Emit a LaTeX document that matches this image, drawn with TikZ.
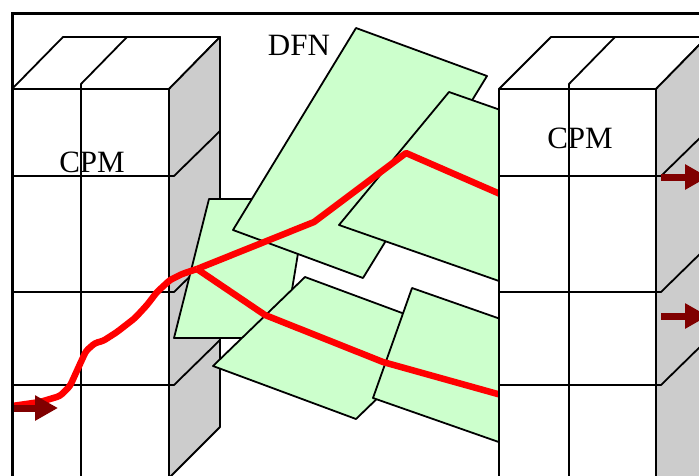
\documentclass[tikz,border=0pt]{standalone}
\usepackage{fontspec}
\setmainfont{Liberation Serif}
\usepackage{xcolor}
\usepackage{tikz}
\usetikzlibrary{arrows.meta}

\begin{document}
\begin{tikzpicture}[x=1pt, y=-1pt,
  edge/.style={black, line width=1.8pt, line join=round},
  sideface/.style={edge, fill=black!20},
  fracture/.style={edge, fill=green!20},
  flowpath/.style={red, line width=6.5pt, line join=round},
  outflow/.style={red!50!black, line width=7pt, -{Triangle[length=23pt, width=24pt]}},
  lbl/.style={font=\fontsize{31}{31}\selectfont, inner sep=0pt}]
  \clip (0,0) rectangle (699,475);
  % left CPM block
  \draw[edge, fill=white] (12,89) -- (63,37) -- (220,37) -- (169,89) -- cycle;
  \draw[sideface] (169,89) -- (220,37) -- (220,427) -- (169,478) -- cycle;
  \draw[edge] (12,89) -- (169,89);
  \draw[edge] (127,37) -- (81,84) -- (81,480);
  \draw[edge] (12,176) -- (174,176) -- (220,131);
  \draw[edge] (12,292) -- (174,292) -- (220,247);
  \draw[edge] (12,385) -- (174,385) -- (220,340);
  \node[lbl] (cpmleft) at (92,162) {CPM};
  % fractures (DFN)
  \draw[fracture] (209,199) -- (307,199) -- (284,338) -- (174,338) -- cycle;
  \draw[fracture] (356,28) -- (487,76) -- (363,278) -- (233,230) -- cycle;
  \draw[fracture] (449,92) -- (649,162) -- (539,295) -- (339,225) -- cycle;
  \draw[fracture] (305,277) -- (448,330) -- (356,419) -- (213,366) -- cycle;
  \draw[fracture] (412,288) -- (612,358) -- (573,468) -- (373,398) -- cycle;
  \node[lbl] (dfn) at (299,45) {DFN};
  % flow path
  \coordinate (split) at (197,269);
  \draw[flowpath, rounded corners=3pt] (12,406) -- (40,402) -- (60,396) -- (70,386)
    -- (80,364) -- (86,351) -- (95,343) -- (103,341) -- (117,332) -- (135,318)
    -- (147,305) -- (157,292) -- (170,280) -- (182,274) -- (split);
  \draw[flowpath] (split) -- (314,222) -- (406,153) -- (530,207);
  \draw[flowpath] (split) -- (265,315) -- (383,362) -- (530,403);
  % right CPM block
  \draw[edge, fill=white] (499,89) rectangle (656,480);
  \draw[edge, fill=white] (499,89) -- (551,37) -- (707,37) -- (656,89) -- cycle;
  \draw[sideface] (656,89) -- (707,37) -- (707,480) -- (656,480) -- cycle;
  \draw[edge] (615,37) -- (569,84) -- (569,480);
  \draw[edge] (499,176) -- (661,176) -- (707,131);
  \draw[edge] (499,292) -- (661,292) -- (707,247);
  \draw[edge] (499,385) -- (661,385) -- (707,340);
  \node[lbl] (cpmright) at (580,138) {CPM};
  % inflow and outflow
  \draw[outflow] (12,408) -- (58,408);
  \draw[outflow] (661,177) -- (708,177);
  \draw[outflow] (661,316) -- (708,316);
  \draw[black, line width=3pt] (12,13) rectangle (720,490);
\end{tikzpicture}
\end{document}
